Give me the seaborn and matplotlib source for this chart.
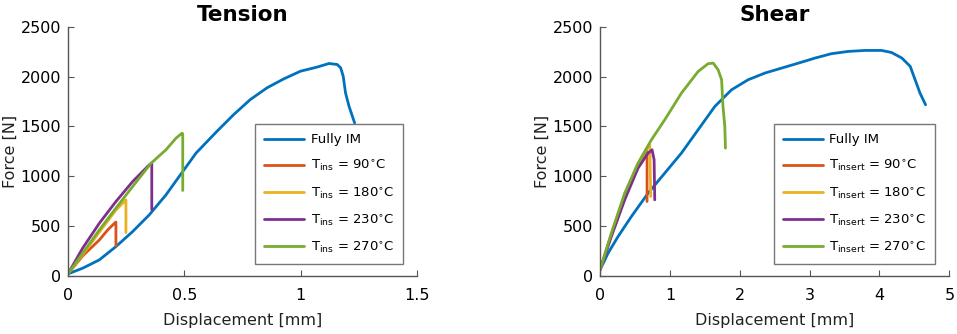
import matplotlib
matplotlib.use('Agg')
import matplotlib.pyplot as plt
import pandas as pd
import seaborn as sns

# Tension data
ten_full_x = [0, 0.063, 0.135, 0.206, 0.278, 0.349, 0.421, 0.493, 0.55, 0.64, 0.712, 0.783,
              0.855, 0.927, 0.999, 1.07, 1.121, 1.156, 1.171, 1.182, 1.192, 1.207, 1.231]
ten_full_y = [20, 77, 161, 294, 445, 612, 813, 1047, 1232, 1451, 1619, 1769,
              1887, 1977, 2054, 2095, 2131, 2121, 2088, 2004, 1836, 1702, 1535]
ten_90_x = [0, 0.063, 0.135, 0.171, 0.203, 0.206, 0.206]
ten_90_y = [20, 200, 361, 462, 535, 540, 301]
ten_180_x = [0, 0.063, 0.135, 0.206, 0.249, 0.249]
ten_180_y = [20, 215, 440, 660, 763, 435]
ten_230_x = [0, 0.063, 0.135, 0.206, 0.278, 0.349, 0.36, 0.36]
ten_230_y = [20, 278, 529, 746, 947, 1114, 1125, 663]
ten_270_x = [0, 0.063, 0.135, 0.206, 0.278, 0.357, 0.421, 0.464, 0.49, 0.493, 0.493]
ten_270_y = [20, 228, 462, 680, 897, 1131, 1265, 1382, 1432, 1425, 857]

# Shear data
sh_full_x = [0, 0.115, 0.258, 0.449, 0.688, 0.926, 1.165, 1.404, 1.643, 1.882, 2.12, 2.36, 2.6,
             2.84, 3.08, 3.31, 3.55, 3.79, 4.03, 4.17, 4.32, 4.44, 4.51, 4.58, 4.66]
sh_full_y = [60, 228, 395, 596, 830, 1031, 1232, 1466, 1700, 1867, 1968, 2035, 2085,
             2135, 2186, 2229, 2252, 2262, 2262, 2242, 2186, 2102, 1968, 1834, 1717]
sh_90_x = [0, 0.162, 0.353, 0.544, 0.664, 0.673, 0.673]
sh_90_y = [60, 412, 797, 1114, 1232, 1248, 746]
sh_180_x = [0, 0.162, 0.353, 0.544, 0.69, 0.712, 0.726]
sh_180_y = [60, 420, 815, 1125, 1300, 1315, 796]
sh_230_x = [0, 0.162, 0.353, 0.544, 0.688, 0.745, 0.774, 0.783]
sh_230_y = [60, 395, 763, 1081, 1232, 1265, 1165, 763]
sh_270_x = [0, 0.162, 0.353, 0.544, 0.735, 0.926, 1.165, 1.404, 1.547, 1.62, 1.69, 1.74,
            1.76, 1.786, 1.795]
sh_270_y = [60, 429, 830, 1131, 1365, 1566, 1834, 2051, 2129, 2135, 2068, 1968,
            1700, 1499, 1282]

temps = ['90', '180', '230', '270']
colors = ['#0072BD', '#D95319', '#EDB120', '#7E2F8E', '#77AC30']

sns.set_style('white')
plt.rcParams['font.family'] = ['DejaVu Sans']
plt.rcParams['mathtext.fontset'] = 'dejavusans'
plt.rcParams['text.color'] = 'black'
plt.rcParams['axes.labelcolor'] = 'black'
plt.rcParams['xtick.color'] = 'black'
plt.rcParams['ytick.color'] = 'black'

fig = plt.figure(figsize=(9.57, 3.34), dpi=100)
ax1 = fig.add_axes([0.071, 0.174, 0.365, 0.746])
ax2 = fig.add_axes([0.627, 0.174, 0.365, 0.746])


def draw(ax, curves, sub, title, xmax, xticks, anchor):
    names = ['Fully IM'] + [r'T$_{\mathrm{%s}}$ = %s$^{\circ}$C' % (sub, t) for t in temps]
    for (x, y), name, c in zip(curves, names, colors):
        d = pd.DataFrame({'x': x, 'y': y})
        sns.lineplot(data=d, x='x', y='y', sort=False, estimator=None, color=c,
                     lw=2, label=name, ax=ax)
    ax.set_xlim(0, xmax)
    ax.set_ylim(0, 2500)
    ax.set_xticks(xticks)
    ax.set_xticklabels([('%g' % v) for v in xticks])
    ax.set_yticks([0, 500, 1000, 1500, 2000, 2500])
    ax.set_xlabel('Displacement [mm]', fontsize=11.5, color='#222222', labelpad=7)
    ax.set_ylabel('Force [N]', fontsize=11.5, color='#222222', labelpad=2)
    ax.set_title(title, fontsize=15.5, fontweight='bold', pad=4, color='black')
    ax.tick_params(direction='in', length=4, labelsize=11.5, color='#555555',
                   left=True, bottom=True)
    ax.tick_params(axis='x', pad=9)
    ax.tick_params(axis='y', pad=5)
    for s in ['top', 'right']:
        ax.spines[s].set_visible(False)
    for s in ['left', 'bottom']:
        ax.spines[s].set_color('#555555')
        ax.spines[s].set_linewidth(1)
    leg = ax.legend(loc='lower right', bbox_to_anchor=anchor, fontsize=9.5,
                    handlelength=3.0, fancybox=False, frameon=True, borderaxespad=0,
                    labelspacing=0.9, borderpad=0.7, handletextpad=0.5)
    leg.get_frame().set_edgecolor('#555555')
    leg.get_frame().set_linewidth(1)


draw(ax1, [(ten_full_x, ten_full_y), (ten_90_x, ten_90_y), (ten_180_x, ten_180_y),
           (ten_230_x, ten_230_y), (ten_270_x, ten_270_y)],
     'ins', 'Tension', 1.5, [0, 0.5, 1, 1.5], (0.96, 0.048))
draw(ax2, [(sh_full_x, sh_full_y), (sh_90_x, sh_90_y), (sh_180_x, sh_180_y),
           (sh_230_x, sh_230_y), (sh_270_x, sh_270_y)],
     'insert', 'Shear', 5, [0, 1, 2, 3, 4, 5], (0.96, 0.048))

plt.savefig('out.png', dpi=100)
